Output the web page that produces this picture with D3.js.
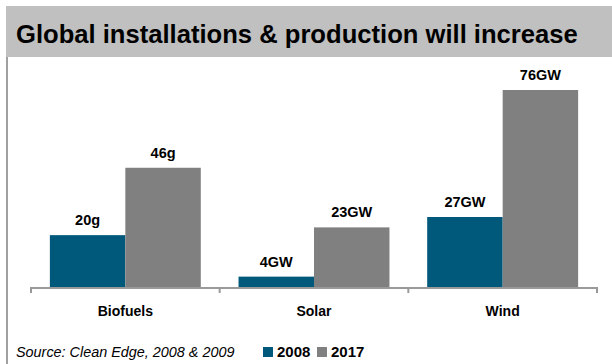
<!DOCTYPE html>
<html>
<head>
<meta charset="utf-8">
<script src="https://cdn.jsdelivr.net/npm/d3@7/dist/d3.min.js"></script>
<style>
  html, body { margin: 0; padding: 0; background: #fff; }
  svg { display: block; font-family: "Liberation Sans", Arial, sans-serif; }
</style>
</head>
<body>
<svg id="chart" width="612" height="364"></svg>
<script>
// Chart data
const categories = ["Biofuels", "Solar", "Wind"];
const seriesNames = ["2008", "2017"];
const values2008 = [20, 4, 27];
const values2017 = [46, 23, 76];
const labels2008 = ["20g", "4GW", "27GW"];
const labels2017 = ["46g", "23GW", "76GW"];
const titleText = "Global installations & production will increase";
const sourceText = "Source: Clean Edge, 2008 & 2009";

const colors = { "2008": "#00587a", "2017": "#808080" };

const svg = d3.select("#chart");
const W = 612, H = 364;

// Title band
svg.append("rect").attr("x", 6).attr("y", 6).attr("width", W - 6).attr("height", 51)
  .attr("fill", "#c0c0c0");
svg.append("text").attr("x", 16).attr("y", 43)
  .attr("font-size", 25.6).attr("font-weight", "bold").attr("fill", "#000")
  .text(titleText);

// Left frame line
svg.append("rect").attr("x", 6).attr("y", 57).attr("width", 2).attr("height", H - 57)
  .attr("fill", "#a0a0a0");

// Scales
const plot = { left: 31, right: 597, top: 60, bottom: 287 };
const x0 = d3.scaleBand().domain(categories).range([plot.left, plot.right]).paddingInner(0).paddingOuter(0);
const x1 = d3.scaleBand().domain(seriesNames).range([0, x0.bandwidth()]).paddingOuter(0.25).paddingInner(0);
const y = d3.scaleLinear().domain([0, 76]).range([plot.bottom, 90]);

const rows = categories.map((c, i) => ({
  cat: c,
  vals: [
    { s: "2008", v: values2008[i], label: labels2008[i] },
    { s: "2017", v: values2017[i], label: labels2017[i] }
  ]
}));

const g = svg.append("g");
const groups = g.selectAll("g.cat").data(rows).join("g")
  .attr("class", "cat")
  .attr("transform", d => `translate(${x0(d.cat)},0)`);

groups.selectAll("rect").data(d => d.vals).join("rect")
  .attr("x", d => x1(d.s))
  .attr("y", d => y(d.v))
  .attr("width", x1.bandwidth())
  .attr("height", d => y(0) - y(d.v))
  .attr("fill", d => colors[d.s]);

groups.selectAll("text.val").data(d => d.vals).join("text")
  .attr("class", "val")
  .attr("x", d => x1(d.s) + x1.bandwidth() / 2)
  .attr("y", d => y(d.v) - 10)
  .attr("text-anchor", "middle")
  .attr("font-size", 14.5).attr("font-weight", "bold").attr("fill", "#000")
  .text(d => d.label);

// Category axis
const ax = svg.append("g").attr("transform", `translate(0,${plot.bottom})`);
ax.append("line").attr("x1", plot.left).attr("x2", plot.right).attr("y1", 1).attr("y2", 1)
  .attr("stroke", "#999").attr("stroke-width", 2);
const tickXs = categories.map(c => x0(c)).concat([plot.right]);
ax.selectAll("line.tick").data(tickXs).join("line")
  .attr("class", "tick")
  .attr("x1", d => d).attr("x2", d => d).attr("y1", 0).attr("y2", 6)
  .attr("stroke", "#999").attr("stroke-width", 2);
ax.selectAll("text.cat").data(categories).join("text")
  .attr("class", "cat")
  .attr("x", d => x0(d) + x0.bandwidth() / 2)
  .attr("y", 29)
  .attr("text-anchor", "middle")
  .attr("font-size", 14).attr("font-weight", "bold").attr("fill", "#000")
  .text(d => d);

// Source note
svg.append("text").attr("x", 16).attr("y", 357)
  .attr("font-size", 14.4).attr("font-style", "italic").attr("fill", "#000")
  .text(sourceText);

// Legend
const legendX = [263, 317];
const lg = svg.selectAll("g.legend").data(seriesNames).join("g")
  .attr("class", "legend")
  .attr("transform", (d, i) => `translate(${legendX[i]},347)`);
lg.append("rect").attr("width", 10).attr("height", 10).attr("fill", d => colors[d]);
lg.append("text").attr("x", 14).attr("y", 10)
  .attr("font-size", 15).attr("font-weight", "bold").attr("fill", "#000")
  .text(d => d);
</script>
</body>
</html>
